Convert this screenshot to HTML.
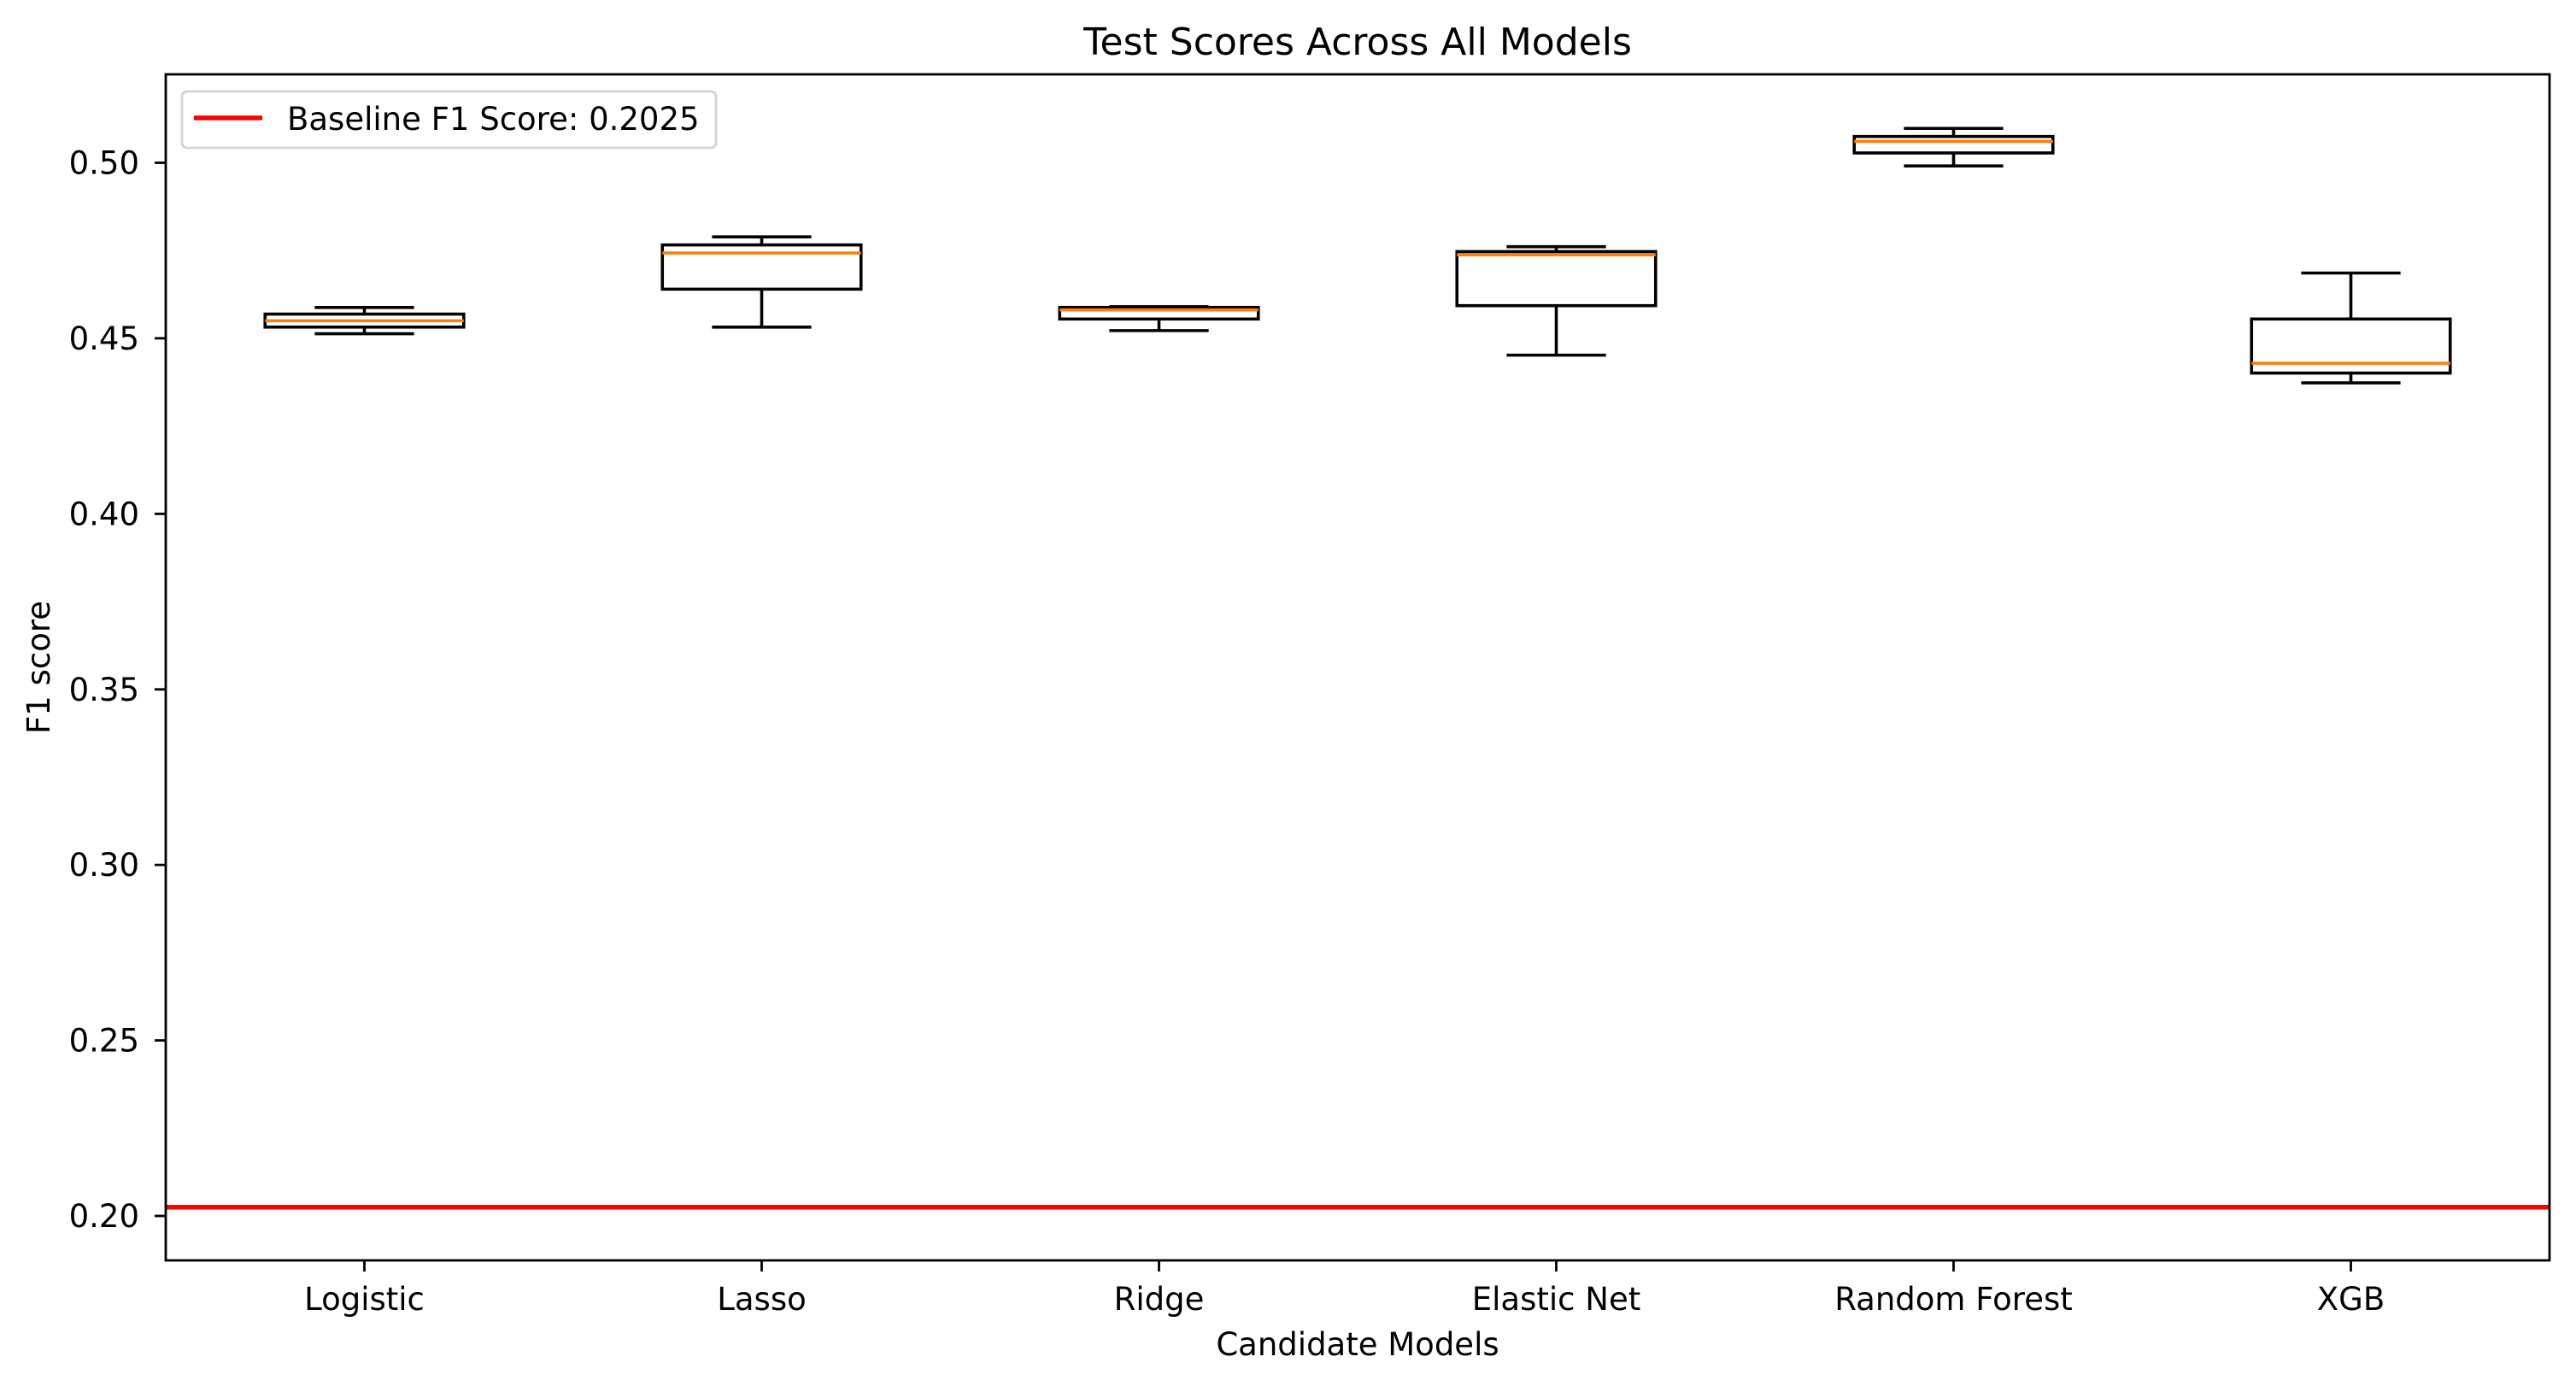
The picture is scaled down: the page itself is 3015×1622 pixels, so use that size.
<!DOCTYPE html>
<html><head><meta charset="utf-8"><style>
html,body{margin:0;padding:0;background:#fff;}
svg{display:block;font-family:"DejaVu Sans","Liberation Sans",sans-serif;}
</style></head><body>
<svg id="chart" width="3015" height="1622" viewBox="0 0 3015 1622" xmlns="http://www.w3.org/2000/svg">
<rect width="3015" height="1622" fill="#fff"/>
<text x="1589" y="64" font-size="44" text-anchor="middle">Test Scores Across All Models</text>
<g id="plot"></g>
<text x="1589" y="1586" font-size="37" text-anchor="middle">Candidate Models</text>
<text x="0" y="0" font-size="37" text-anchor="middle" transform="translate(58,781) rotate(-90)">F1 score</text>
</svg>
<script>
const categories = ["Logistic","Lasso","Ridge","Elastic Net","Random Forest","XGB"];
const whiskerLow  = [0.4513,0.4532,0.4522,0.4452,0.4991,0.4373];
const q1Values    = [0.4532,0.4640,0.4555,0.4593,0.5028,0.4401];
const medians     = [0.4550,0.4743,0.4581,0.4738,0.5061,0.4429];
const q3Values    = [0.4569,0.4766,0.4588,0.4747,0.5075,0.4555];
const whiskerHigh = [0.4588,0.4789,0.4590,0.4761,0.5098,0.4686];
const baseline = 0.2025;
const yTicks = [0.20,0.25,0.30,0.35,0.40,0.45,0.50];
const yTickLabels = ["0.20","0.25","0.30","0.35","0.40","0.45","0.50"];

const L=194,R=2984,T=87,B=1475;
const yScale=v=>1423-(v-0.20)*(1423-190.5)/0.30;
const xScale=i=>L+(i+0.5)*(R-L)/categories.length;
const unit=(R-L)/categories.length;
const NS="http://www.w3.org/2000/svg";
const g=document.getElementById('plot');
function mk(tag,attrs,parent){const e=document.createElementNS(NS,tag);for(const k in attrs)e.setAttribute(k,attrs[k]);(parent||g).appendChild(e);return e;}

const bl=mk('line',{x1:L,x2:R,y1:yScale(baseline),y2:yScale(baseline),stroke:'#ff0000','stroke-width':5.5});



categories.forEach((c,i)=>{
  const grp=mk('g',{});
  
  
  const x=xScale(i),hw=unit*0.25,cw=unit*0.125;
  const sw=3.6;
  mk('line',{x1:x,x2:x,y1:yScale(whiskerLow[i]),y2:yScale(q1Values[i]),stroke:'#000','stroke-width':sw},grp);
  mk('line',{x1:x,x2:x,y1:yScale(whiskerHigh[i]),y2:yScale(q3Values[i]),stroke:'#000','stroke-width':sw},grp);
  mk('line',{x1:x-cw,x2:x+cw,y1:yScale(whiskerLow[i]),y2:yScale(whiskerLow[i]),stroke:'#000','stroke-width':sw},grp);
  mk('line',{x1:x-cw,x2:x+cw,y1:yScale(whiskerHigh[i]),y2:yScale(whiskerHigh[i]),stroke:'#000','stroke-width':sw},grp);
  mk('rect',{x:x-hw,y:yScale(q3Values[i]),width:2*hw,height:yScale(q1Values[i])-yScale(q3Values[i]),fill:'none',stroke:'#000','stroke-width':sw},grp);
  mk('line',{x1:x-hw,x2:x+hw,y1:yScale(medians[i]),y2:yScale(medians[i]),stroke:'#ff7f0e','stroke-width':sw},grp);
  mk('line',{x1:x,x2:x,y1:B,y2:B+13,stroke:'#000','stroke-width':2.8});
  const t=mk('text',{x:x,y:1533,'font-size':37,'text-anchor':'middle'});
  t.textContent=c;
  
  
});

yTicks.forEach((v,i)=>{
  const y=yScale(v);
  mk('line',{x1:L-13,x2:L,y1:y,y2:y,stroke:'#000','stroke-width':2.8});
  const t=mk('text',{x:L-31,y:y+13,'font-size':37,'text-anchor':'end'});
  t.textContent=yTickLabels[i];
  
  
});

const frame=mk('rect',{x:L,y:T,width:R-L,height:B-T,fill:'none',stroke:'#000','stroke-width':2.8});



const lg=mk('g',{});


mk('rect',{x:213,y:107,width:625,height:66,rx:6,fill:'#fff','fill-opacity':0.8,stroke:'#d4d4d4','stroke-width':2.8},lg);
mk('line',{x1:227,x2:307,y1:138,y2:138,stroke:'#ff0000','stroke-width':5.5},lg);
const lt=mk('text',{x:336,y:152,'font-size':37},lg);
lt.textContent='Baseline F1 Score: 0.2025';


</script>
</body></html>
